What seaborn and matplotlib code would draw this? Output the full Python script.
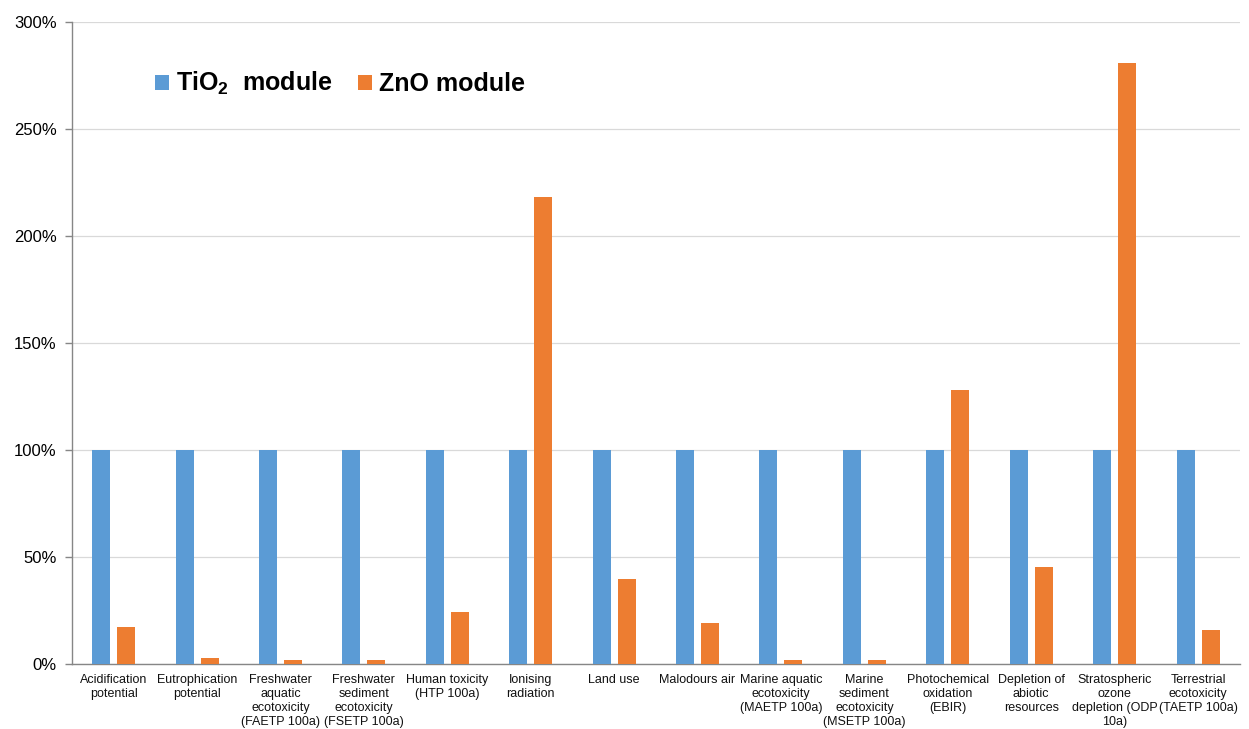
import matplotlib
matplotlib.use("Agg")
import matplotlib.pyplot as plt
from matplotlib.ticker import PercentFormatter
import seaborn as sns
import pandas as pd

# Impact categories (wrapped as displayed under the axis)
categories = [
    "Acidification\npotential",
    "Eutrophication\npotential",
    "Freshwater\naquatic\necotoxicity\n(FAETP 100a)",
    "Freshwater\nsediment\necotoxicity\n(FSETP 100a)",
    "Human toxicity\n(HTP 100a)",
    "Ionising\nradiation",
    "Land use",
    "Malodours air",
    "Marine aquatic\necotoxicity\n(MAETP 100a)",
    "Marine\nsediment\necotoxicity\n(MSETP 100a)",
    "Photochemical\noxidation\n(EBIR)",
    "Depletion of\nabiotic\nresources",
    "Stratospheric\nozone\ndepletion (ODP\n10a)",
    "Terrestrial\necotoxicity\n(TAETP 100a)",
]

# Relative impact in percent (TiO2 module = 100 %)
tio2_values = [100] * 14
zno_values = [17.5, 3, 2, 2, 24.5, 218, 39.5, 19, 2, 2, 128, 45.5, 281, 16]

series_names = ["TiO$_{2}$  module", "ZnO module"]
colors = ["#5B9BD5", "#ED7D31"]
y_ticks = [0, 50, 100, 150, 200, 250, 300]

df = pd.DataFrame({
    "category": categories * 2,
    "series": [series_names[0]] * len(categories) + [series_names[1]] * len(categories),
    "value": tio2_values + zno_values,
})

sns.set_theme(style="white")
plt.rcParams["font.family"] = ["Liberation Sans", "DejaVu Sans"]
plt.rcParams["mathtext.fontset"] = "custom"
plt.rcParams["mathtext.rm"] = "Liberation Sans:bold"
plt.rcParams["mathtext.it"] = "Liberation Sans:bold"
plt.rcParams["mathtext.bf"] = "Liberation Sans:bold"

fig = plt.figure(figsize=(12.49, 7.29), dpi=100)
ax = fig.add_axes([0.0576, 0.0892, 0.935, 0.8806])

sns.barplot(
    data=df, x="category", y="value", hue="series",
    palette=colors, saturation=1, width=0.6, gap=0.28, linewidth=0,
    errorbar=None, ax=ax, zorder=3,
)

ax.set_ylim(0, 300)
ax.set_yticks(y_ticks)
ax.yaxis.set_major_formatter(PercentFormatter(100, decimals=0))
ax.set_xlim(-0.5, len(categories) - 0.5)
ax.set_xlabel("")
ax.set_ylabel("")

ax.grid(axis="y", color="#D9D9D9", linewidth=0.9, zorder=0)
ax.grid(axis="x", visible=False)
for side in ["top", "right"]:
    ax.spines[side].set_visible(False)
for side in ["left", "bottom"]:
    ax.spines[side].set_color("#868686")
    ax.spines[side].set_linewidth(1.0)

ax.tick_params(axis="y", which="major", left=True, length=5, width=1,
               color="#868686", labelsize=12, labelcolor="#000000", pad=6)
ax.tick_params(axis="x", bottom=False, labelsize=9, labelcolor="#111111", pad=1)
for lbl in ax.get_xticklabels():
    lbl.set_horizontalalignment("center")
    lbl.set_verticalalignment("top")
    lbl.set_multialignment("center")
    lbl.set_linespacing(1.22)

handles, labels = ax.get_legend_handles_labels()
leg = ax.legend(
    handles, labels, loc="center left", bbox_to_anchor=(0.052, 0.904),
    ncol=2, frameon=False, prop={"weight": "bold", "size": 18},
    handlelength=0.55, handleheight=0.55, handletextpad=0.3,
    columnspacing=1.0,
)
for txt in leg.get_texts():
    txt.set_color("#000000")

fig.savefig("out.png", dpi=100)
